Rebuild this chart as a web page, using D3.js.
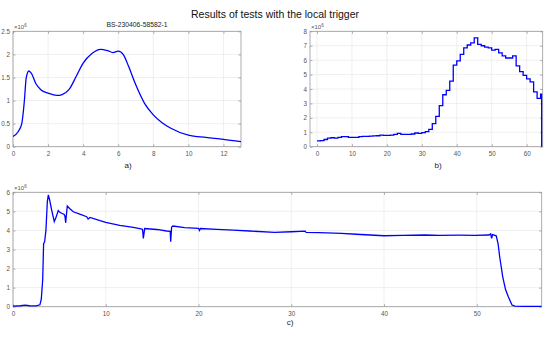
<!DOCTYPE html>
<html>
<head>
<meta charset="utf-8">
<script src="https://cdn.jsdelivr.net/npm/d3@7"></script>
<style>
body { margin: 0; background: #fff; }
svg { font-family: "Liberation Sans", Arial, sans-serif; }
</style>
</head>
<body>
<svg id="main" width="550" height="337"></svg>
<script>
// panel a) smooth curve, values x10^6
var aX = [0, 0.3, 0.5, 0.65, 0.75, 0.9, 1.05, 1.3, 1.6, 2, 2.5, 2.8, 3.2, 3.6, 4, 4.5, 5, 5.4, 5.7, 6, 6.3, 6.6, 7, 7.5, 8, 8.5, 9, 10, 11, 12, 13];
var aY = [0.22, 0.33, 0.5, 1.0, 1.48, 1.64, 1.59, 1.37, 1.23, 1.16, 1.11, 1.13, 1.24, 1.52, 1.81, 2.02, 2.11, 2.08, 2.04, 2.07, 1.99, 1.73, 1.34, 0.94, 0.69, 0.52, 0.40, 0.25, 0.20, 0.16, 0.11];

// panel b) stairs, one value per bin 0..64
var bY = [0.4, 0.42, 0.5, 0.6, 0.62, 0.6, 0.65, 0.7, 0.7, 0.65, 0.65, 0.65, 0.7, 0.72, 0.72, 0.74, 0.75, 0.76, 0.8, 0.78, 0.78, 0.8, 0.85, 0.92, 0.85, 0.85, 0.85, 0.88, 0.95, 0.93, 0.98, 1.05, 1.2, 1.6, 2.1, 2.85, 3.6, 3.9, 4.55, 5.65, 5.95, 6.4, 6.85, 7.05, 7.2, 7.55, 7.1, 7.0, 6.9, 6.85, 6.7, 6.75, 6.5, 6.3, 6.15, 6.15, 6.3, 5.6, 5.2, 4.95, 4.7, 4.5, 3.8, 3.35, 3.65];
var bEnd = 64.3;

// panel c) long trace
var cX = [0, 0.8, 1.3, 1.8, 2.5, 2.9, 3.05, 3.2, 3.3, 3.41, 3.55, 3.7, 3.81, 3.95, 4.17, 4.45, 4.65, 4.88, 5.05, 5.24, 5.5, 5.6, 5.68, 5.85, 6.1, 6.5, 7.2, 7.94, 8.1, 8.3, 9.38, 10, 11.5, 12.97, 13.8, 13.97, 14.05, 14.2, 15.5, 16.56, 16.95, 17.0, 17.1, 17.25, 18.5, 20, 20.1, 20.2, 22, 23.74, 25.5, 28.2, 30, 31.5, 31.6, 33, 35.4, 37, 40, 42, 44.4, 46, 48, 49.8, 51.3, 51.5, 51.6, 51.7, 52.1, 52.3, 52.47, 52.8, 53.1, 53.4, 53.8, 54.1, 55, 57];
var cY = [0.03, 0.05, 0.08, 0.05, 0.04, 0.1, 0.4, 1.4, 3.3, 3.4, 4.0, 5.5, 5.86, 5.6, 5.07, 4.46, 4.7, 5.04, 4.95, 4.9, 4.85, 4.75, 4.4, 5.28, 5.15, 4.98, 4.85, 4.72, 4.6, 4.68, 4.51, 4.42, 4.26, 4.16, 4.08, 4.05, 3.58, 4.1, 4.05, 3.97, 3.95, 3.41, 4.18, 4.23, 4.15, 4.11, 4.0, 4.1, 4.06, 4.02, 3.97, 3.9, 3.93, 3.96, 3.9, 3.89, 3.85, 3.8, 3.72, 3.74, 3.76, 3.74, 3.75, 3.74, 3.76, 3.82, 3.58, 3.78, 3.72, 3.3, 2.62, 1.57, 0.9, 0.52, 0.09, 0.03, 0.02, 0.02];

var svg = d3.select('#main');

svg.append('text')
	.attr('x', 275).attr('y', 18)
	.attr('text-anchor', 'middle')
	.attr('font-size', 10.5)
	.attr('fill', '#111')
	.text('Results of tests with the local trigger');

function panel(box, xdom, ydom, xticks, yticks, yfmt, label) {
	var g = svg.append('g');
	var x = d3.scaleLinear().domain(xdom).range([box.x0, box.x1]);
	var y = d3.scaleLinear().domain(ydom).range([box.y1, box.y0]);
	// grid
	g.selectAll('.gx').data(xticks).join('line')
		.attr('x1', d => x(d)).attr('x2', d => x(d))
		.attr('y1', box.y0).attr('y2', box.y1)
		.attr('stroke', '#e8e8e8').attr('stroke-width', 0.7);
	g.selectAll('.gy').data(yticks).join('line')
		.attr('x1', box.x0).attr('x2', box.x1)
		.attr('y1', d => y(d)).attr('y2', d => y(d))
		.attr('stroke', '#e8e8e8').attr('stroke-width', 0.7);
	// axes with inward ticks
	var ax = [
		[d3.axisBottom(x).tickValues(xticks).tickSizeInner(-2.5).tickSizeOuter(0).tickFormat(d3.format('d')), box.y1, true],
		[d3.axisTop(x).tickValues(xticks).tickSizeInner(-2.5).tickSizeOuter(0).tickFormat(''), box.y0, false],
	];
	for (let [a, pos] of ax) {
		g.append('g').attr('transform', `translate(0,${pos})`).call(a);
	}
	g.append('g').attr('transform', `translate(${box.x0},0)`)
		.call(d3.axisLeft(y).tickValues(yticks).tickSizeInner(-2.5).tickSizeOuter(0).tickFormat(yfmt));
	g.append('g').attr('transform', `translate(${box.x1},0)`)
		.call(d3.axisRight(y).tickValues(yticks).tickSizeInner(-2.5).tickSizeOuter(0).tickFormat(''));
	g.selectAll('.domain').remove();
	g.selectAll('.tick line').attr('stroke', '#8c8c8c').attr('stroke-width', 0.7);
	g.selectAll('.tick text').attr('font-size', 6.3).attr('fill', '#555')
		.attr('font-family', '"Liberation Sans", Arial, sans-serif');
	g.selectAll('.tick text').each(function() {
		var t = d3.select(this);
		if (t.attr('y') && +t.attr('y') > 0) t.attr('y', 5);
		if (t.attr('x') && +t.attr('x') < 0) t.attr('x', -3);
	});
	g.append('rect')
		.attr('x', box.x0).attr('y', box.y0)
		.attr('width', box.x1 - box.x0).attr('height', box.y1 - box.y0)
		.attr('fill', 'none').attr('stroke', '#9a9a9a').attr('stroke-width', 0.8);
	// exponent
	var ex = g.append('text').attr('x', box.x0 + 1).attr('y', box.y0 - 2)
		.attr('font-size', 6).attr('fill', '#555');
	ex.append('tspan').text('\u00d710');
	ex.append('tspan').attr('dy', -2.5).attr('font-size', 4.5).text('6');
	// sub-label
	svg.append('text').attr('x', label.x).attr('y', label.y)
		.attr('text-anchor', 'middle').attr('font-size', 8).attr('fill', '#222')
		.text(label.t);
	var clip = 'clip' + label.t.replace(')', '');
	svg.append('clipPath').attr('id', clip).append('rect')
		.attr('x', box.x0).attr('y', box.y0 - 1)
		.attr('width', box.x1 - box.x0).attr('height', box.y1 - box.y0 + 2);
	return {g: svg.append('g').attr('clip-path', `url(#${clip})`), x, y};
}

var fmtA = d => d === 0 ? '0' : String(d);

// a)
var pa = panel({x0: 13, x1: 241, y0: 31.3, y1: 146.7}, [0, 13], [0, 2.5],
	d3.range(0, 13, 2), d3.range(0, 2.51, 0.5), fmtA, {x: 128, y: 168, t: 'a)'});
pa.g.append('path')
	.datum(aX.map((d, i) => [d, aY[i]]))
	.attr('d', d3.line().x(d => pa.x(d[0])).y(d => pa.y(d[1])).curve(d3.curveMonotoneX))
	.attr('fill', 'none').attr('stroke', '#0000ff').attr('stroke-width', 1.3);
svg.append('text').attr('x', 137).attr('y', 27).attr('text-anchor', 'middle')
	.attr('font-size', 6.8).attr('fill', '#222').text('BS-230406-58582-1');

// b)
var pb = panel({x0: 310, x1: 542.7, y0: 31.3, y1: 146.7}, [-2, 64.6], [0, 8],
	d3.range(0, 61, 10), d3.range(0, 9, 1), d3.format('d'), {x: 438, y: 168, t: 'b)'});
var bPts = bY.map((v, i) => [i, v]).concat([[bEnd, bY[bY.length - 1]], [bEnd, 0]]);
pb.g.append('path')
	.datum(bPts)
	.attr('d', d3.line().x(d => pb.x(d[0])).y(d => pb.y(d[1])).curve(d3.curveStepAfter))
	.attr('fill', 'none').attr('stroke', '#0000ff').attr('stroke-width', 1.3);

// c)
var pc = panel({x0: 13, x1: 541.7, y0: 192.3, y1: 306.7}, [0, 57], [0, 6],
	d3.range(0, 51, 10), d3.range(0, 7, 1), d3.format('d'), {x: 290, y: 325, t: 'c)'});
pc.g.append('path')
	.datum(cX.map((d, i) => [d, cY[i]]))
	.attr('d', d3.line().x(d => pc.x(d[0])).y(d => pc.y(d[1])))
	.attr('fill', 'none').attr('stroke', '#0000ff').attr('stroke-width', 1.3);
</script>
</body>
</html>
